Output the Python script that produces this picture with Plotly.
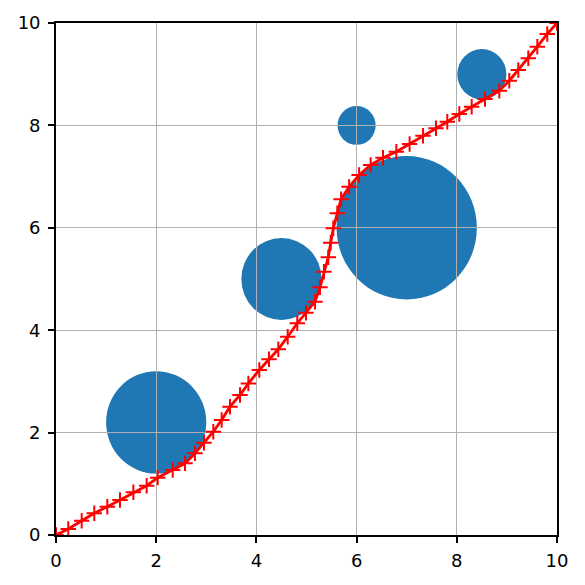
import plotly.graph_objects as go

# Circle obstacles
circle_x = [2.0, 4.5, 6.0, 7.0, 8.5]
circle_y = [2.2, 5.0, 8.0, 6.0, 9.0]
circle_r = [1.0, 0.8, 0.38, 1.4, 0.49]

# Path points
path_x = [0.0, 0.245, 0.513, 0.764, 1.024, 1.277, 1.544, 1.81, 2.03, 2.329, 2.575,
          2.774, 2.954, 3.14, 3.307, 3.473, 3.673, 3.84, 4.058, 4.251, 4.437, 4.625,
          4.816, 4.99, 5.17, 5.269, 5.349, 5.435, 5.483, 5.535, 5.615, 5.69, 5.85,
          6.05, 6.281, 6.527, 6.793, 7.058, 7.325, 7.585, 7.81, 8.05, 8.297, 8.563,
          8.848, 9.048, 9.228, 9.427, 9.607, 9.806, 10.0]
path_y = [0.0, 0.117, 0.279, 0.424, 0.553, 0.684, 0.834, 0.963, 1.12, 1.27, 1.40,
          1.596, 1.803, 2.018, 2.246, 2.506, 2.734, 2.96, 3.223, 3.432, 3.627, 3.873,
          4.135, 4.342, 4.557, 4.838, 5.143, 5.424, 5.709, 5.990, 6.283, 6.56, 6.80,
          7.03, 7.227, 7.369, 7.486, 7.637, 7.797, 7.943, 8.072, 8.223, 8.365, 8.516,
          8.678, 8.873, 9.082, 9.311, 9.537, 9.785, 10.0]

ticks = [0, 2, 4, 6, 8, 10]

fig = go.Figure()
fig.add_trace(go.Scatter(
    x=path_x, y=path_y, mode="lines+markers",
    line=dict(color="red", width=2.8),
    marker=dict(symbol="cross-thin", size=11, line=dict(color="red", width=2)),
    showlegend=False,
))

for cx, cy, r in zip(circle_x, circle_y, circle_r):
    fig.add_shape(type="circle", xref="x", yref="y",
                  x0=cx - r, x1=cx + r, y0=cy - r, y1=cy + r,
                  fillcolor="#1f77b4", line=dict(width=0), layer="below")

axis_common = dict(
    range=[0, 10], tickvals=ticks, ticktext=[str(t) for t in ticks],
    showgrid=True, gridcolor="#b0b0b0", gridwidth=1.4,
    zeroline=False, showline=True, linecolor="black", linewidth=1.7, mirror=True,
    ticks="outside", ticklen=6, tickwidth=1.7, tickcolor="black",
    tickfont=dict(family="DejaVu Sans", size=18, color="black"),
    automargin=False,
)
fig.update_xaxes(**axis_common, ticklabelstandoff=3)
fig.update_yaxes(**axis_common, ticklabelstandoff=4)

fig.update_layout(
    width=577, height=577,
    margin=dict(l=48, r=28, t=15, b=50),
    plot_bgcolor="white", paper_bgcolor="white",
)

fig.write_html("out.html")
